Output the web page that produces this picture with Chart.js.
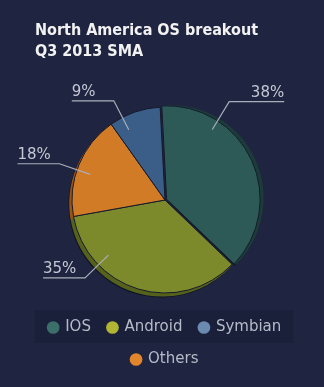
<!DOCTYPE html>
<html>
<head>
<meta charset="utf-8">
<script src="https://cdn.jsdelivr.net/npm/chart.js@4"></script>
<style>
    html, body { margin: 0; padding: 0; background: #1f2440; }
    #wrap { width: 324px; height: 387px; }
</style>
</head>
<body>
<div id="wrap"><canvas id="osChart"></canvas></div>
<script>
// North America OS breakout - Q3 2013 SMA

// Data (pie order, clockwise from top)
const osLabels = ['IOS', 'Android', 'Others', 'Symbian'];
const osShares = [38, 35, 18, 9];
const legendOrder = ['IOS', 'Android', 'Symbian', 'Others'];
const titleLines = ['North America OS breakout', 'Q3 2013 SMA'];

// Colors (same order as osLabels)
const sliceColors = ['#2d5a57', '#7d8a2b', '#d27b26', '#3a5e88'];
const rimColors = ['#1d3b39', '#56621c', '#9a5414', '#283f60'];
const legendColors = ['#3d6f6a', '#b2b434', '#e2862c', '#6b8ab0'];
const textColor = '#c4c8d4';

// where along each slice the leader line starts (0..1)
const leaderAt = [0.25, 0.73, 0.45, 0.25];

// Background, left-aligned title, legend panel and 3D rim under the pie
const depthPlugin = {
    id: 'depth',
    beforeDraw(chart) {
        const { ctx, width, height, legend } = chart;
        ctx.save();
        ctx.fillStyle = '#1f2440';
        ctx.fillRect(0, 0, width, height);
        ctx.fillStyle = '#f2f2f2';
        ctx.font = 'bold 16px "DejaVu Sans Condensed", "DejaVu Sans", sans-serif';
        ctx.textAlign = 'left';
        ctx.textBaseline = 'alphabetic';
        titleLines.forEach((line, i) => ctx.fillText(line, 35, 35 + i * 21));
        // faint panel behind the first legend row
        const row0 = (legend.legendHitBoxes || []).filter(b => b.row === 0);
        if (row0.length) {
            const l = Math.min(...row0.map(b => b.left)) - 14;
            const r = Math.max(...row0.map(b => b.left + b.width)) + 12;
            const t = row0[0].top - 10;
            ctx.fillStyle = 'rgba(16,20,38,0.25)';
            ctx.fillRect(l, t, r - l, row0[0].height + 18);
        }
        ctx.restore();
    },
    beforeDatasetsDraw(chart) {
        const { ctx } = chart;
        const arcs = chart.getDatasetMeta(0).data;
        ctx.save();
        for (let d = 5; d >= 1; d--) {
            arcs.forEach((arc, i) => {
                const p = arc.getProps(['x', 'y', 'startAngle', 'endAngle', 'outerRadius']);
                const off = arc.options.offset || 0;
                const mid = (p.startAngle + p.endAngle) / 2;
                const cx = p.x + Math.cos(mid) * off - d * 0.7;
                const cy = p.y + Math.sin(mid) * off + d * 0.9;
                ctx.beginPath();
                ctx.moveTo(cx, cy);
                ctx.arc(cx, cy, p.outerRadius, p.startAngle, p.endAngle);
                ctx.closePath();
                ctx.fillStyle = d === 5 ? 'rgba(10,14,30,0.8)' : rimColors[i];
                ctx.fill();
            });
        }
        ctx.restore();
    }
};

// Percent labels with leader lines
const leaderPlugin = {
    id: 'leaders',
    afterDatasetsDraw(chart) {
        const { ctx } = chart;
        const arcs = chart.getDatasetMeta(0).data;
        ctx.save();
        ctx.strokeStyle = '#a9aebb';
        ctx.lineWidth = 1.2;
        ctx.fillStyle = textColor;
        ctx.font = '15px "DejaVu Sans", sans-serif';
        ctx.textBaseline = 'alphabetic';
        arcs.forEach((arc, i) => {
            const p = arc.getProps(['x', 'y', 'startAngle', 'endAngle', 'outerRadius']);
            const off = arc.options.offset || 0;
            const mid = (p.startAngle + p.endAngle) / 2;
            const cx = p.x + Math.cos(mid) * off;
            const cy = p.y + Math.sin(mid) * off;
            const a = p.startAngle + (p.endAngle - p.startAngle) * leaderAt[i];
            const r = p.outerRadius;
            const x1 = cx + Math.cos(a) * r * 0.85, y1 = cy + Math.sin(a) * r * 0.85;
            const x2 = cx + Math.cos(a) * r * 1.2, y2 = cy + Math.sin(a) * r * 1.2;
            const right = Math.cos(a) >= 0;
            const x3 = x2 + (right ? 55 : -42);
            ctx.beginPath();
            ctx.moveTo(x1, y1);
            ctx.lineTo(x2, y2);
            ctx.lineTo(x3, y2);
            ctx.stroke();
            ctx.textAlign = right ? 'right' : 'left';
            ctx.fillText(osShares[i] + '%', x3, y2 - 5);
        });
        ctx.restore();
    }
};

new Chart(document.getElementById('osChart'), {
    type: 'pie',
    data: {
        labels: osLabels,
        datasets: [{
            data: osShares,
            backgroundColor: sliceColors,
            borderColor: '#151a2c',
            borderWidth: 1,
            offset: [7, 0, 0, 0]
        }]
    },
    options: {
        responsive: true,
        maintainAspectRatio: false,
        animation: false,
        rotation: -3,
        radius: 93,
        layout: { padding: { left: 17, right: 11, top: 97, bottom: 10 } },
        plugins: {
            title: { display: false },
            legend: {
                position: 'bottom',
                labels: {
                    usePointStyle: true,
                    pointStyle: 'circle',
                    boxWidth: 9,
                    boxHeight: 9,
                    padding: 17,
                    color: '#b6bbc8',
                    font: { family: '"DejaVu Sans", sans-serif', size: 15 },
                    sort: (a, b) => legendOrder.indexOf(a.text) - legendOrder.indexOf(b.text),
                    generateLabels(chart) {
                        return osLabels.map((label, i) => ({
                            text: label,
                            fillStyle: legendColors[i],
                            strokeStyle: legendColors[i],
                            fontColor: '#b6bbc8',
                            lineWidth: 0,
                            pointStyle: 'circle',
                            hidden: false,
                            index: i
                        }));
                    }
                }
            },
            tooltip: { enabled: false }
        }
    },
    plugins: [depthPlugin, leaderPlugin]
});
</script>
</body>
</html>
